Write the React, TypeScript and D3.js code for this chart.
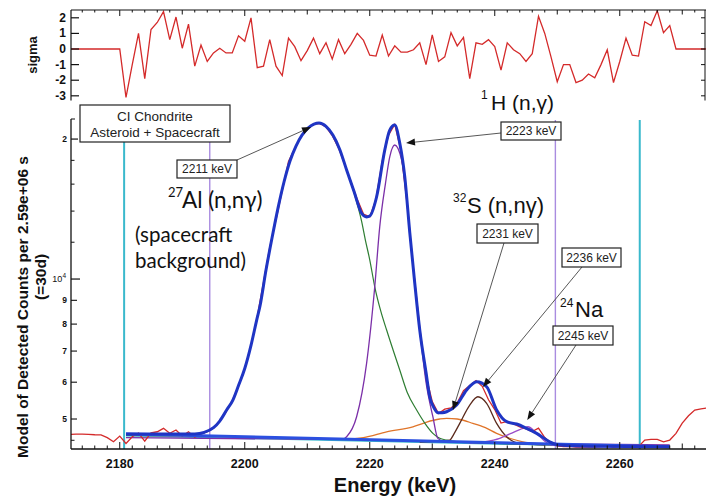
import React from "react";
import * as d3 from "d3";

// ---------- data ----------
const residualE = [2172, 2180, 2181, 2182, 2183, 2184, 2185, 2186, 2187, 2188, 2189, 2190, 2191, 2192, 2193, 2194, 2195, 2196, 2197, 2198, 2199, 2200, 2201, 2202, 2203, 2204, 2205, 2206, 2207, 2208, 2209, 2210, 2211, 2212, 2213, 2214, 2215, 2216, 2217, 2218, 2219, 2220, 2221, 2222, 2223, 2224, 2225, 2226, 2227, 2228, 2229, 2230, 2231, 2232, 2233, 2234, 2235, 2236, 2237, 2238, 2239, 2240, 2241, 2242, 2243, 2244, 2245, 2246, 2247, 2248, 2249, 2250, 2251, 2252, 2253, 2254, 2255, 2256, 2257, 2258, 2259, 2260, 2261, 2262, 2263, 2264, 2265, 2266, 2267, 2268, 2269, 2274];
const residualSigma = [0, 0, -3.1, -1.0, 1.0, -1.9, 1.25, 1.7, 2.4, 0.6, 2.05, 0.05, 1.6, -1.1, 0.25, -0.8, -0.25, 0.05, -0.25, -0.25, 0.85, 0.5, 2.0, -1.2, -1.1, 0.6, -1.1, -1.7, 0.7, 0.15, -0.75, -0.1, 0.7, -0.3, 0.4, -0.65, 0.6, -0.3, 0.3, 1.0, 0.55, -0.4, -0.45, 0.9, -0.45, 0.2, -0.2, -0.2, -0.05, 0.4, -1.0, 0.9, -0.8, -0.5, 1.05, 0.2, 0.75, -1.9, 0.4, 0.3, 0.6, 0.15, -1.35, 0.4, -0.05, -0.3, -0.8, -0.3, 2.1, 1.0, -0.5, -2.1, -1.0, -1.0, -2.15, -2.0, -1.6, -1.85, -1.0, -0.05, -2.15, -0.8, 0.7, -0.4, -0.45, 1.75, 1.5, 2.45, 1.05, 1.5, 0, 0];

// measured spectrum (red)
const dataE = [2172, 2173, 2174, 2175, 2176, 2177, 2178, 2179, 2180, 2181, 2182, 2183, 2184, 2185, 2186, 2187, 2188, 2189, 2190, 2191, 2192, 2193, 2194, 2195, 2196, 2197, 2198, 2199, 2200, 2201, 2202, 2203, 2204, 2205, 2206, 2207, 2208, 2209, 2210, 2211, 2212, 2213, 2214, 2215, 2216, 2217, 2218, 2219, 2220, 2221, 2222, 2223, 2224, 2225, 2226, 2227, 2228, 2229, 2230, 2231, 2232, 2233, 2234, 2235, 2236, 2237, 2238, 2239, 2240, 2241, 2242, 2243, 2244, 2245, 2246, 2247, 2248, 2249, 2250, 2251, 2252, 2253, 2254, 2255, 2256, 2257, 2258, 2259, 2260, 2261, 2262, 2263, 2264, 2265, 2266, 2267, 2268, 2269, 2270, 2271, 2272, 2273, 2274];
const dataCounts = [4630, 4640, 4641, 4635, 4625, 4620, 4560, 4467, 4595, 4431, 4580, 4665, 4480, 4670, 4694, 4774, 4658, 4735, 4595, 4694, 4570, 4641, 4694, 4780, 4960, 5170, 5480, 5880, 6420, 7180, 8300, 9850, 11700, 13400, 15500, 17900, 19100, 20250, 21050, 21550, 21600, 21250, 20350, 19150, 17600, 16150, 14850, 13800, 13600, 14850, 17950, 20400, 21500, 18850, 14400, 10500, 7850, 6200, 5450, 5140, 5250, 5280, 5420, 5750, 5900, 6050, 5880, 5500, 5240, 4900, 4940, 4880, 4810, 4760, 4700, 4780, 4560, 4440, 4380, 4360, 4365, 4350, 4350, 4355, 4350, 4360, 4372, 4350, 4370, 4390, 4365, 4360, 4505, 4520, 4520, 4467, 4505, 4658, 4900, 5080, 5227, 5260, 5280];

// total model (blue)
const totalE = [2181, 2186, 2192, 2193.5, 2195, 2196, 2197.1, 2198.1, 2199, 2200, 2201, 2201.9, 2202.44, 2203.4, 2204.36, 2205.32, 2206.28, 2207.24, 2208.2, 2209.16, 2210.12, 2211.08, 2211.88, 2213, 2214.1, 2215.2, 2216.3, 2217.5, 2218.7, 2219.5, 2220, 2221.1, 2222.4, 2223.2, 2224, 2224.8, 2225.6, 2226.4, 2227.2, 2228, 2229, 2229.6, 2230.4, 2230.9, 2231.6, 2232.3, 2233.9, 2235.5, 2237.1, 2238.7, 2240.3, 2241.9, 2243.5, 2245.1, 2246.7, 2248.8, 2250.4, 2255, 2268];
const totalCounts = [4641, 4641, 4645, 4680, 4790, 4950, 5227, 5492, 5900, 6420, 7200, 8150, 8750, 10455, 12250, 14210, 16170, 17940, 19320, 20400, 21120, 21540, 21650, 21300, 20400, 19000, 17160, 15400, 13850, 13600, 13660, 15030, 18940, 20910, 21440, 19610, 16600, 12600, 9800, 7770, 6300, 5583, 5250, 5158, 5160, 5183, 5358, 5772, 6013, 5867, 5227, 4933, 4877, 4774, 4658, 4467, 4395, 4370, 4357];

// 27Al(n,n'g) 2211 keV component (green)
const alE = [2181, 2192, 2193.5, 2195, 2196, 2197.1, 2198.1, 2199, 2200, 2201, 2201.9, 2202.44, 2203.4, 2204.36, 2205.32, 2206.28, 2207.24, 2208.2, 2209.16, 2210.12, 2211.08, 2211.88, 2213, 2214.1, 2215.2, 2216.3, 2217.5, 2218.7, 2219.3, 2220, 2220.8, 2221.8, 2222.7, 2224.8, 2226, 2227.5, 2228.8, 2230.1, 2231.2, 2232.3, 2235, 2240, 2250, 2268];
const alCounts = [4610, 4620, 4670, 4780, 4940, 5220, 5480, 5890, 6410, 7190, 8140, 8740, 10440, 12240, 14200, 16160, 17930, 19300, 20380, 21100, 21520, 21630, 21280, 20380, 18980, 17140, 15300, 13300, 12130, 11000, 9625, 8500, 7770, 6372, 5700, 5227, 4900, 4658, 4545, 4505, 4460, 4430, 4400, 4380];

// 1H(n,g) 2223 keV component (purple)
const hE = [2181, 2215.7, 2216.3, 2217.9, 2219.5, 2220.8, 2221.6, 2222.5, 2223.2, 2224, 2225.1, 2225.8, 2226.6, 2228, 2229, 2230.1, 2230.9, 2232, 2240, 2268];
const hCounts = [4560, 4520, 4580, 5057, 6597, 9625, 12960, 16000, 18320, 19420, 18030, 15500, 11800, 7770, 6000, 5057, 4543, 4470, 4440, 4400];

// 32S(n,n'g) 2231 keV broad component (orange)
const sE = [2181, 2195, 2205, 2215.7, 2219, 2222.7, 2226.9, 2229, 2231.2, 2232.3, 2234, 2236.5, 2238.5, 2240.3, 2242.5, 2244.5, 2247, 2249.1, 2252];
const sCounts = [4610, 4590, 4550, 4520, 4560, 4694, 4812, 4920, 5000, 5017, 5000, 4894, 4790, 4658, 4540, 4467, 4420, 4395, 4380];

// 2236 keV component (brown)
const peak2236E = [2228, 2231, 2232.8, 2233.5, 2234.4, 2236, 2237.3, 2238.7, 2240.3, 2241.9, 2244, 2248];
const peak2236Counts = [4460, 4480, 4505, 4650, 4894, 5358, 5583, 5403, 4894, 4580, 4431, 4400];

// 24Na 2245 keV component (violet)
const naE = [2236, 2238.5, 2240.8, 2242.5, 2244.5, 2245.3, 2246.7, 2248, 2249.1, 2252];
const naCounts = [4440, 4470, 4543, 4650, 4774, 4812, 4658, 4480, 4395, 4380];

// linear backgrounds
const bgE = [2181, 2268];
const bgBlueCounts = [4641, 4357];
const bgTealCounts = [4600, 4340];

// region markers
const fitRange = [2180.7, 2263.2];
const peakRange = [2194.4, 2249.7];

// axis ticks
const xTickLabels = [2180, 2200, 2220, 2240, 2260];
const sigmaTicks = [2, 1, 0, -1, -2, -3];
const yMajorTicks = [5000, 6000, 7000, 8000, 9000];
const yMajorLabels = ["5", "6", "7", "8", "9"];
const yMinorTicks = [4500, 12000, 14000, 16000, 18000];

// annotations: label, arrow tip (energy, counts)
const arrowLabels = ["2211 keV", "2223 keV", "2231 keV", "2236 keV", "2245 keV"];
const arrowTipE = [2210.6, 2225.8, 2233.3, 2238.1, 2245.2];
const arrowTipCounts = [21230, 19610, 5227, 5858, 4976];

// ---------- layout ----------
const W = 707;
const H = 497;
const L = 71;
const R = 706;
const MAIN_TOP = 119;
const MAIN_BOT = 449;
const SIG_TOP = 10;
const SIG_BOT = 100.5;

const boxes = [
  { x: 177, y: 160, w: 60, h: 18, sx: 237, sy: 160 },
  { x: 501, y: 122, w: 60, h: 18, sx: 501, sy: 133 },
  { x: 477, y: 224, w: 61, h: 19, sx: 504, sy: 243 },
  { x: 562, y: 248, w: 59, h: 19, sx: 582, sy: 267 },
  { x: 553, y: 326, w: 60, h: 19, sx: 576, sy: 345 },
];

const ARIAL = "'Liberation Sans', Arial, sans-serif";
const GILL = "Lato, 'Open Sans', sans-serif";

export default function App() {
  const x = d3.scaleLinear().domain([2172.2, 2273.8]).range([L, R]);
  const y = d3.scaleLog().domain([4310, 22090]).range([MAIN_BOT, MAIN_TOP]);
  const ys = d3.scaleLinear().domain([-3.3, 2.5]).range([SIG_BOT, SIG_TOP]);

  const zip = (a: number[], b: number[]) => a.map((v, i) => [v, b[i]] as [number, number]);

  const smooth = d3
    .line<[number, number]>()
    .x((d) => x(d[0]))
    .y((d) => y(d[1]))
    .curve(d3.curveMonotoneX);
  const straight = d3
    .line<[number, number]>()
    .x((d) => x(d[0]))
    .y((d) => y(d[1]));
  const sigLine = d3
    .line<[number, number]>()
    .x((d) => x(d[0]))
    .y((d) => ys(d[1]));

  const minorE = d3.range(2174, 2274, 2);
  const tickLen = (e: number) => (e % 20 === 0 ? 7 : e % 10 === 0 ? 5.5 : 3.5);

  return (
    <svg
      width={W}
      height={H}
      viewBox={`0 0 ${W} ${H}`}
      style={{ position: "absolute", left: 0, top: 0, background: "#fff" }}
    >
      <defs>
        <clipPath id="mainclip">
          <rect x={L} y={MAIN_TOP - 10} width={R - L} height={MAIN_BOT - MAIN_TOP + 10} />
        </clipPath>
        <clipPath id="sigclip">
          <rect x={L} y={SIG_TOP} width={R - L} height={SIG_BOT - SIG_TOP} />
        </clipPath>
      </defs>
      <rect x={0} y={0} width={W} height={H} fill="#fff" />

      {/* ---------- residual panel ---------- */}
      <g clipPath="url(#sigclip)">
        <path d={sigLine(zip(residualE, residualSigma)) || ""} fill="none" stroke="#d42a2a" strokeWidth={1.3} />
      </g>
      <line x1={L} x2={R} y1={SIG_TOP} y2={SIG_TOP} stroke="#111" strokeWidth={1.2} />
      <line x1={L} x2={L} y1={SIG_TOP} y2={SIG_BOT} stroke="#111" strokeWidth={1.2} />
      <line x1={R - 1} x2={R - 1} y1={SIG_TOP} y2={SIG_BOT} stroke="#111" strokeWidth={1} />
      {minorE.map((e) => (
        <line key={"st" + e} x1={x(e)} x2={x(e)} y1={SIG_TOP} y2={SIG_TOP + tickLen(e) - 1} stroke="#111" strokeWidth={1} />
      ))}
      {sigmaTicks.map((t) => (
        <g key={"sg" + t}>
          <line x1={L} x2={L + 8} y1={ys(t)} y2={ys(t)} stroke="#111" strokeWidth={1.2} />
          <line x1={R - 1} x2={R - 5} y1={ys(t)} y2={ys(t)} stroke="#111" strokeWidth={1} />
          <text x={L - 5} y={ys(t) + 4} textAnchor="end" fontFamily={ARIAL} fontWeight="bold" fontSize={12} fill="#111">
            {t}
          </text>
        </g>
      ))}
      <text
        transform={`translate(37,55) rotate(-90)`}
        textAnchor="middle"
        fontFamily={ARIAL}
        fontWeight="bold"
        fontSize={13}
        fill="#111"
      >
        sigma
      </text>

      {/* ---------- main panel ---------- */}
      {[...fitRange].map((e, i) => (
        <line key={"fr" + i} x1={x(e)} x2={x(e)} y1={MAIN_TOP + 1} y2={MAIN_BOT} stroke="#3ab9cc" strokeWidth={2} />
      ))}
      {[...peakRange].map((e, i) => (
        <line key={"pr" + i} x1={x(e)} x2={x(e)} y1={MAIN_TOP + 1} y2={MAIN_BOT} stroke="#a98ce0" strokeWidth={1.4} />
      ))}

      <g clipPath="url(#mainclip)">
        <path d={straight(zip(bgE, bgTealCounts)) || ""} fill="none" stroke="#3ab9cc" strokeWidth={1.5} />
        <path d={smooth(zip(sE, sCounts)) || ""} fill="none" stroke="#e0752a" strokeWidth={1.3} />
        <path d={smooth(zip(alE, alCounts)) || ""} fill="none" stroke="#2e7d32" strokeWidth={1.2} />
        <path d={smooth(zip(hE, hCounts)) || ""} fill="none" stroke="#7b2fa8" strokeWidth={1.3} />
        <path d={smooth(zip(peak2236E, peak2236Counts)) || ""} fill="none" stroke="#5b2a1c" strokeWidth={1.3} />
        <path d={smooth(zip(naE, naCounts)) || ""} fill="none" stroke="#9a4cc8" strokeWidth={1.3} />
        <path d={straight(zip(dataE, dataCounts)) || ""} fill="none" stroke="#d42a2a" strokeWidth={1.3} />
        <path d={straight(zip(bgE, bgBlueCounts)) || ""} fill="none" stroke="#2b50e0" strokeWidth={3} />
        <path d={smooth(zip(totalE, totalCounts)) || ""} fill="none" stroke="#1f35c4" strokeWidth={3} strokeLinejoin="round" />
      </g>

      {/* axes */}
      <line x1={L} x2={L} y1={MAIN_TOP} y2={MAIN_BOT} stroke="#111" strokeWidth={1.3} />
      <line x1={L} x2={R} y1={MAIN_BOT} y2={MAIN_BOT} stroke="#111" strokeWidth={1.3} />
      {minorE.map((e) => (
        <line key={"bt" + e} x1={x(e)} x2={x(e)} y1={MAIN_BOT} y2={MAIN_BOT - tickLen(e)} stroke="#111" strokeWidth={1} />
      ))}
      {xTickLabels.map((e) => (
        <text key={"xl" + e} x={x(e)} y={468} textAnchor="middle" fontFamily={ARIAL} fontWeight="bold" fontSize={12.5} fill="#111">
          {e}
        </text>
      ))}
      <text x={395} y={492} textAnchor="middle" fontFamily={ARIAL} fontWeight="bold" fontSize={20} fill="#111">
        Energy (keV)
      </text>

      <line x1={L} x2={L + 4} y1={MAIN_TOP} y2={MAIN_TOP} stroke="#111" strokeWidth={1} />
      {yMajorTicks.map((t, i) => (
        <g key={"ym" + t}>
          <line x1={L} x2={L + 6} y1={y(t)} y2={y(t)} stroke="#111" strokeWidth={1.1} />
          <text x={L - 4} y={y(t) + 3} textAnchor="end" fontFamily={ARIAL} fontWeight="bold" fontSize={8.5} fill="#111">
            {yMajorLabels[i]}
          </text>
        </g>
      ))}
      {yMinorTicks.map((t) => (
        <line key={"yn" + t} x1={L} x2={L + 3.5} y1={y(t)} y2={y(t)} stroke="#111" strokeWidth={1} />
      ))}
      <line x1={L} x2={L + 9} y1={y(10000)} y2={y(10000)} stroke="#111" strokeWidth={1.2} />
      <text x={L - 5} y={y(10000) + 3} textAnchor="end" fontFamily={ARIAL} fontSize={9} fill="#111">
        10
        <tspan dy={-4} fontSize={6.5}>4</tspan>
      </text>
      <line x1={L} x2={L + 7} y1={y(20000)} y2={y(20000)} stroke="#111" strokeWidth={1.2} />
      <text x={L - 4} y={y(20000) + 3} textAnchor="end" fontFamily={ARIAL} fontWeight="bold" fontSize={8.5} fill="#111">
        2
      </text>

      <text
        transform={`translate(28,307) rotate(-90)`}
        textAnchor="middle"
        fontFamily={ARIAL}
        fontWeight="bold"
        fontSize={15.5}
        fill="#111"
      >
        Model of Detected Counts per 2.59e+06 s
      </text>
      <text
        transform={`translate(46,277) rotate(-90)`}
        textAnchor="middle"
        fontFamily={ARIAL}
        fontWeight="bold"
        fontSize={15.5}
        fill="#111"
      >
        (=30d)
      </text>

      {/* ---------- annotations ---------- */}
      <rect x={80} y={105} width={150} height={37} fill="#fff" stroke="#222" strokeWidth={1.2} />
      <text x={155} y={121} textAnchor="middle" fontFamily={ARIAL} fontSize={13.5} fill="#222">
        CI Chondrite
      </text>
      <text x={155} y={137} textAnchor="middle" fontFamily={ARIAL} fontSize={13.5} fill="#222">
        Asteroid + Spacecraft
      </text>

      {arrowLabels.map((lab, i) => {
        const b = boxes[i];
        const tx = x(arrowTipE[i]);
        const ty = y(arrowTipCounts[i]);
        const ang = Math.atan2(ty - b.sy, tx - b.sx);
        const hl = 9;
        const hw = 3.5;
        const bx = tx - hl * Math.cos(ang);
        const by = ty - hl * Math.sin(ang);
        const p1 = [bx + hw * Math.sin(ang), by - hw * Math.cos(ang)];
        const p2 = [bx - hw * Math.sin(ang), by + hw * Math.cos(ang)];
        return (
          <g key={"ar" + i}>
            <line x1={b.sx} y1={b.sy} x2={bx} y2={by} stroke="#444" strokeWidth={0.9} />
            <polygon points={`${tx},${ty} ${p1[0]},${p1[1]} ${p2[0]},${p2[1]}`} fill="#111" />
            <rect x={b.x} y={b.y} width={b.w} height={b.h} fill="#fff" stroke="#222" strokeWidth={1.2} />
            <text x={b.x + b.w / 2} y={b.y + b.h / 2 + 4} textAnchor="middle" fontFamily={ARIAL} fontSize={12} fill="#222">
              {lab}
            </text>
          </g>
        );
      })}

      <text x={168} y={197} fontFamily={GILL} fontSize={13} fill="#111">27</text>
      <text x={182} y={208} fontFamily={GILL} fontSize={22.5} fill="#111">Al (n,nγ)</text>
      <text x={135} y={242} fontFamily={GILL} fontSize={20.5} fill="#111">(spacecraft</text>
      <text x={135} y={268} fontFamily={GILL} fontSize={20.5} fill="#111">background)</text>

      <text x={481} y={99} fontFamily={ARIAL} fontSize={12} fill="#111">1</text>
      <text x={491} y={110} fontFamily={ARIAL} fontSize={21} fill="#111">H (n,γ)</text>

      <text x={453} y={202} fontFamily={ARIAL} fontSize={12} fill="#111">32</text>
      <text x={467} y={213} fontFamily={ARIAL} fontSize={22} fill="#111">S (n,nγ)</text>

      <text x={560} y={307} fontFamily={ARIAL} fontSize={12} fill="#111">24</text>
      <text x={575} y={317} fontFamily={ARIAL} fontSize={22} fill="#111">Na</text>
    </svg>
  );
}
